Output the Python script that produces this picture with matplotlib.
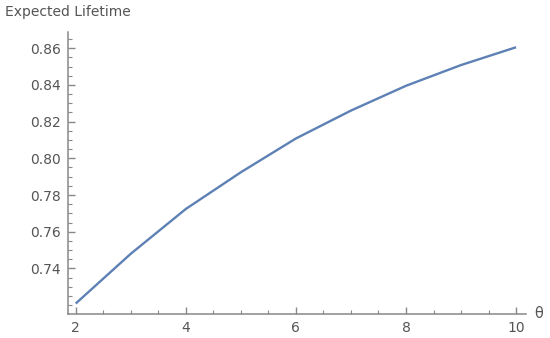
import matplotlib
matplotlib.use("Agg")
import matplotlib.pyplot as plt
from matplotlib.ticker import MultipleLocator

theta = [2, 3, 4, 5, 6, 7, 8, 9, 10]
lifetime = [0.7209, 0.748, 0.7724, 0.7924, 0.8108, 0.826, 0.8395, 0.8508, 0.8605]
xticks = [2, 4, 6, 8, 10]
yticks = [0.74, 0.76, 0.78, 0.80, 0.82, 0.84, 0.86]
ytick_labels = ["0.74", "0.76", "0.78", "0.80", "0.82", "0.84", "0.86"]

fig = plt.figure(figsize=(5.5, 3.38), dpi=100)
ax = fig.add_axes([68/550, 1-314/338, (526-68)/550, (314-32)/338])
ax.plot(theta, lifetime, color="#5E81B5", lw=1.7, solid_capstyle="butt")

ax.set_xlim(1.86, 10.18)
ax.set_ylim(0.7152, 0.8688)
ax.set_xticks(xticks)
ax.set_yticks(yticks)
ax.set_yticklabels(ytick_labels)
ax.xaxis.set_minor_locator(MultipleLocator(0.5))
ax.yaxis.set_minor_locator(MultipleLocator(0.005))

axis_col = "#888888"
text_col = "#555555"
for s in ["top", "right"]:
    ax.spines[s].set_visible(False)
for s in ["left", "bottom"]:
    ax.spines[s].set_color(axis_col)
    ax.spines[s].set_linewidth(1.1)
ax.tick_params(which="major", direction="in", length=5, width=1.0, color=axis_col,
               labelcolor=text_col, labelsize=10, pad=5)
ax.tick_params(which="minor", direction="in", length=3, width=0.8, color=axis_col)

fig.text(5/550, 1-12/338, "Expected Lifetime", fontsize=10, color=text_col,
         ha="left", va="center")
fig.text(534/550, 1-313/338, "θ", fontsize=10.5, color=text_col, ha="left", va="center")

fig.savefig("out.png", dpi=100)
